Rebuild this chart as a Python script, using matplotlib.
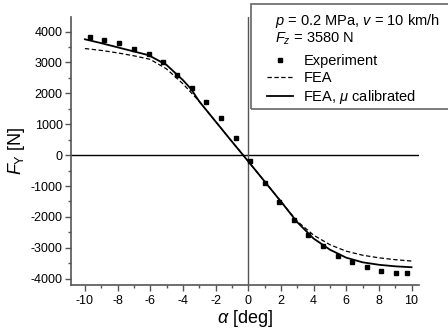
import numpy as np
import matplotlib
matplotlib.use("Agg")
import matplotlib.pyplot as plt
from matplotlib.patches import Rectangle

# ── Style ──────────────────────────────────────────────────
plt.rcParams.update({
    "font.family": ["Liberation Sans", "DejaVu Sans"],
    "mathtext.fontset": "custom",
    "mathtext.rm": "Liberation Sans",
    "mathtext.it": "Liberation Sans:italic",
    "mathtext.bf": "Liberation Sans:bold",
    "axes.unicode_minus": False,
})
SPINE = "#555555"

# ── Data ───────────────────────────────────────────────────
exp_alpha = [-9.7, -8.8, -7.9, -7.0, -6.1, -5.2, -4.35, -3.47, -2.57, -1.67,
             -0.75, 0.1, 1.0, 1.88, 2.78, 3.68, 4.57, 5.47, 6.35, 7.25,
             8.14, 9.04, 9.7]
exp_fy = [3830, 3720, 3615, 3430, 3270, 3010, 2590, 2170, 1730, 1190,
          545, -200, -890, -1505, -2090, -2590, -2945, -3280, -3465, -3625,
          -3745, -3820, -3820]

fea_alpha = [-10, -9, -8, -7, -6, -5, -4, -3, -2, -1, 0,
             1, 2, 3, 4, 5, 6, 7, 8, 9, 10]
fea_fy = [3450, 3390, 3310, 3215, 3100, 2790, 2310, 1740, 1090, 440, -200,
          -850, -1500, -2140, -2590, -2900, -3110, -3240, -3325, -3385, -3430]

cal_alpha = [-10, -9, -8, -7, -6.1, -5, -4, -3.5, -3, -2, -1, 0,
             1, 2, 3, 4, 5, 6, 7, 8, 9, 10]
cal_fy = [3750, 3625, 3490, 3355, 3235, 2920, 2430, 2140, 1740, 1090, 440, -200,
          -850, -1500, -2170, -2700, -3060, -3320, -3470, -3550, -3600, -3630]

# ── Plot ───────────────────────────────────────────────────
fig = plt.figure(figsize=(4.48, 3.34), dpi=100)
ax = fig.add_axes([0.1585, 0.1467, 0.7765, 0.8023])

ax.axhline(0, color="black", lw=1.0, zorder=1)
ax.axvline(0, color=SPINE, lw=1.0, zorder=1)

l_exp, = ax.plot(exp_alpha, exp_fy, ls="none", marker="s", ms=3.2,
                 color="black", label="Experiment")
l_fea, = ax.plot(fea_alpha, fea_fy, ls=(0, (3.5, 2)), lw=0.9,
                 color="black", label="FEA")
l_cal, = ax.plot(cal_alpha, cal_fy, ls="-", lw=1.3,
                 color="black", label=r"FEA, $\mu$ calibrated")

ax.set_xlim(-10.85, 10.45)
ax.set_ylim(-4205, 4470)
ax.set_xticks(np.arange(-10, 11, 2))
ax.set_xticks(np.arange(-9, 10, 2), minor=True)
ax.set_yticks(np.arange(-4000, 4001, 1000))
ax.set_yticks(np.arange(-3500, 4000, 1000), minor=True)

for s in ["top", "right"]:
    ax.spines[s].set_visible(False)
for s in ["left", "bottom"]:
    ax.spines[s].set_color(SPINE)
    ax.spines[s].set_linewidth(1.2)

ax.tick_params(which="major", direction="out", length=4, width=1,
               color=SPINE, labelsize=9, pad=2)
ax.tick_params(axis="x", which="major", pad=3)
ax.tick_params(which="minor", direction="out", length=2.5, width=1,
               color=SPINE)

ax.set_xlabel(r"$\alpha$ [deg]", fontsize=13, labelpad=1)
ax.set_ylabel(r"$F_\mathrm{Y}$ [N]", fontsize=13, labelpad=3)

# ── Legend box ─────────────────────────────────────────────
fig.patches.append(Rectangle((251 / 448, 1 - 109 / 334), 0.5, 105 / 334,
                             transform=fig.transFigure, fill=False,
                             edgecolor="#666666", lw=1.2))
fig.text(275 / 448, 1 - 21 / 334, r"$p$ = 0.2 MPa, $v$ = 10 km/h",
         fontsize=10.5, va="center", ha="left")
fig.text(275 / 448, 1 - 39 / 334, r"$F_z$ = 3580 N",
         fontsize=10.5, va="center", ha="left")
fig.legend(handles=[l_exp, l_fea, l_cal], loc="upper left",
           bbox_to_anchor=(267 / 448, 1 - 54 / 334), frameon=False,
           fontsize=10.5, borderpad=0, borderaxespad=0, labelspacing=0.2,
           handlelength=1.8, handletextpad=0.7, markerscale=0.9)

plt.savefig("out.png", dpi=100)
